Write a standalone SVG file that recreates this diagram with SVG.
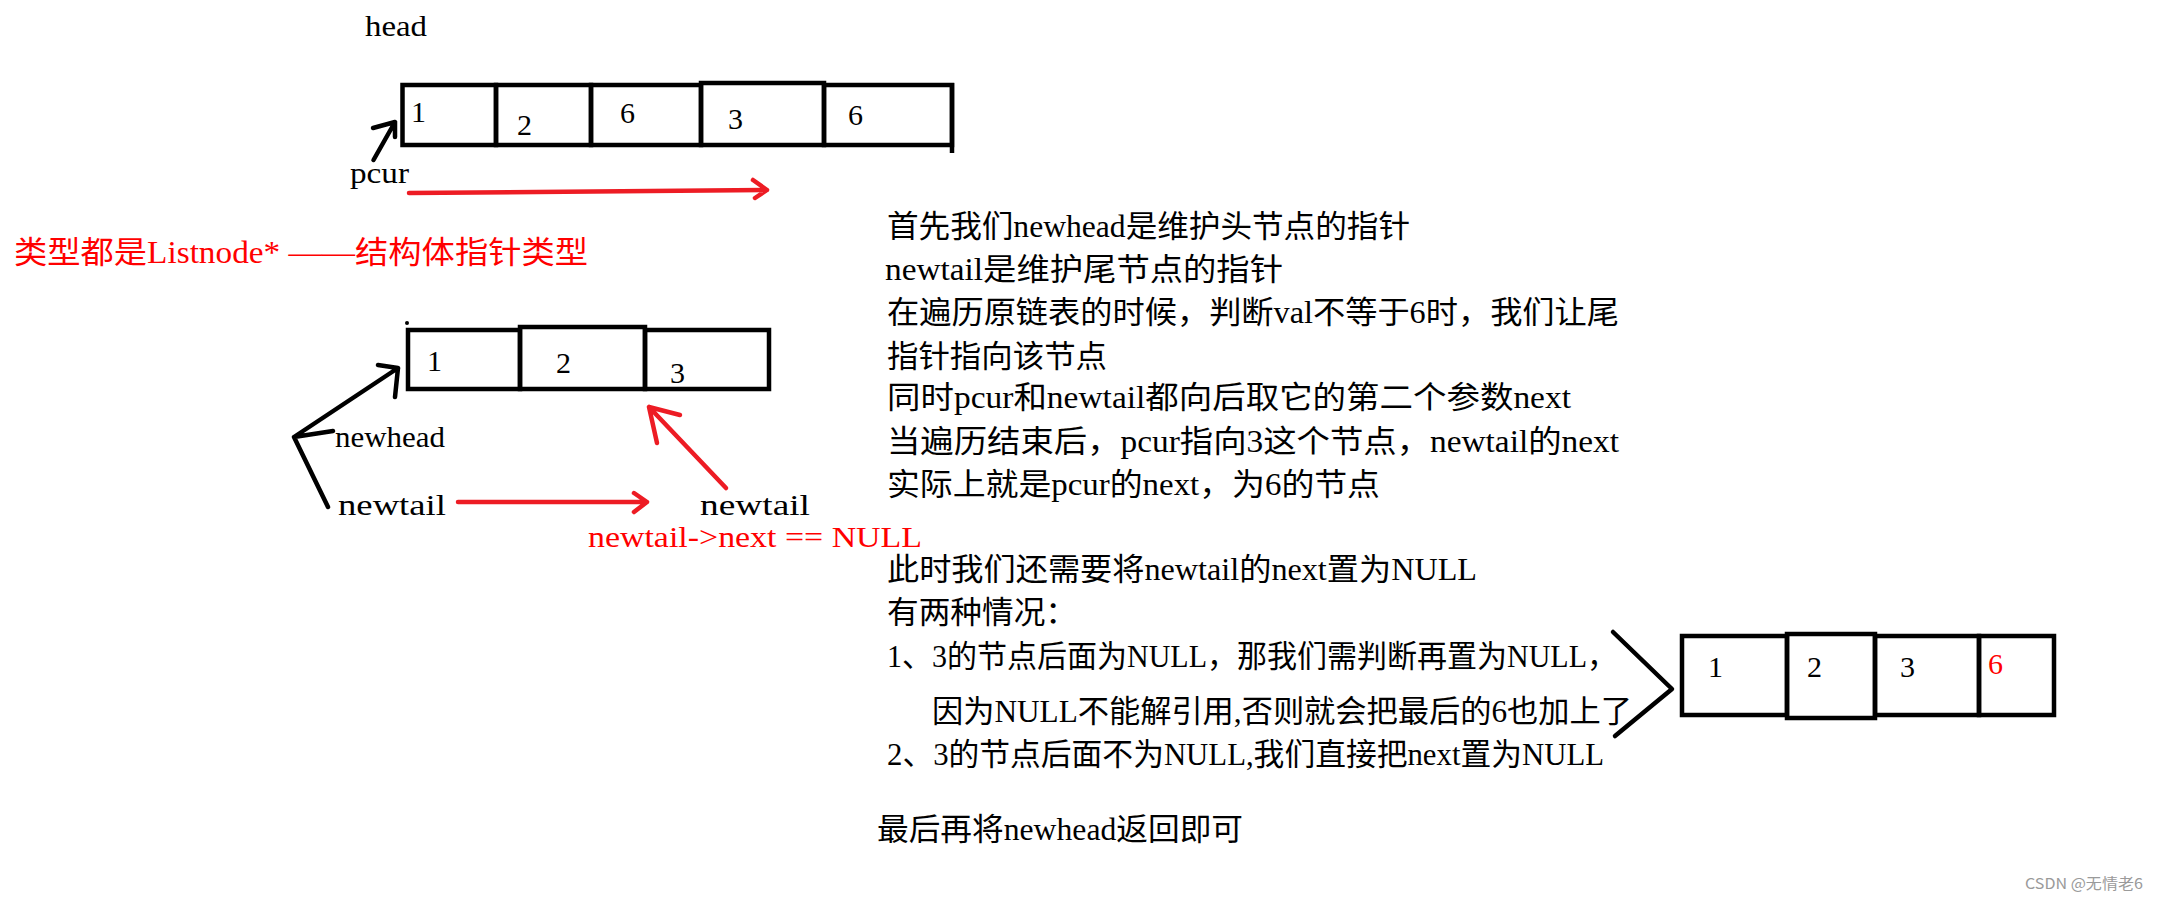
<svg xmlns="http://www.w3.org/2000/svg" width="2157" height="903" viewBox="0 0 2157 903">
<style>
.cell{fill:none;stroke:#000;stroke-width:4.5}
.lbl{font-family:"Liberation Serif","Noto Sans CJK SC",serif;font-size:30px;fill:#000}
.num{font-family:"Liberation Serif",serif;font-size:30px;fill:#000}
.para{font-family:"Liberation Serif","Noto Sans CJK SC",serif;font-size:31px;fill:#000}
.red{fill:#ff0000}
.ab{fill:none;stroke:#000;stroke-width:4.5;stroke-linecap:round;stroke-linejoin:round}
.ar{fill:none;stroke:#ed1c24;stroke-width:4.5;stroke-linecap:round;stroke-linejoin:round}
</style>
<rect width="2157" height="903" fill="#fff"/>

<g id="list1">
<rect class="cell" x="402.5" y="85" width="93.5" height="60"/>
<rect class="cell" x="496" y="85" width="95" height="60"/>
<rect class="cell" x="591" y="85" width="110" height="60"/>
<rect class="cell" x="701" y="83" width="123" height="62"/>
<rect class="cell" x="824" y="85" width="128" height="60"/>
<line class="cell" x1="952" y1="83" x2="952" y2="153"/>
<text class="num" x="411" y="122">1</text>
<text class="num" x="517" y="135">2</text>
<text class="num" x="620" y="123">6</text>
<text class="num" x="728" y="129">3</text>
<text class="num" x="848" y="125">6</text>
</g>

<g id="list2">
<circle cx="407" cy="323" r="2" fill="#000"/>
<rect class="cell" x="408" y="330" width="112" height="59"/>
<rect class="cell" x="520" y="327" width="125" height="62"/>
<rect class="cell" x="645" y="330" width="124" height="59"/>
<text class="num" x="427" y="371">1</text>
<text class="num" x="556" y="373">2</text>
<text class="num" x="670" y="383">3</text>
</g>

<g id="list3">
<rect class="cell" x="1682" y="636" width="105" height="79"/>
<rect class="cell" x="1787" y="634" width="88" height="84"/>
<rect class="cell" x="1875" y="636" width="104" height="79"/>
<rect class="cell" x="1979" y="636" width="75" height="79"/>
<text class="num" x="1708" y="677">1</text>
<text class="num" x="1807" y="677">2</text>
<text class="num" x="1900" y="677">3</text>
<text class="num red" x="1988" y="674">6</text>
</g>

<g id="labels">
<text class="lbl" x="365" y="36" textLength="62" lengthAdjust="spacingAndGlyphs">head</text>
<text class="lbl" x="350" y="183" textLength="59" lengthAdjust="spacingAndGlyphs">pcur</text>
<text class="lbl" x="335" y="447" textLength="110" lengthAdjust="spacingAndGlyphs">newhead</text>
<text class="lbl" x="338" y="515" textLength="108" lengthAdjust="spacingAndGlyphs">newtail</text>
<text class="lbl" x="700" y="515" textLength="110" lengthAdjust="spacingAndGlyphs">newtail</text>
<text class="lbl red" x="588" y="547" font-size="28" textLength="334" lengthAdjust="spacingAndGlyphs">newtail-&gt;next == NULL</text>
<text class="para red" x="14" y="263" textLength="574" lengthAdjust="spacingAndGlyphs">类型都是Listnode* ——结构体指针类型</text>
</g>

<g id="explanation">
<text class="para" x="887" y="237" textLength="523" lengthAdjust="spacingAndGlyphs">首先我们newhead是维护头节点的指针</text>
<text class="para" x="885" y="280" textLength="398" lengthAdjust="spacingAndGlyphs">newtail是维护尾节点的指针</text>
<text class="para" x="887" y="323" textLength="732" lengthAdjust="spacingAndGlyphs">在遍历原链表的时候，判断val不等于6时，我们让尾</text>
<text class="para" x="887" y="367" textLength="220" lengthAdjust="spacingAndGlyphs">指针指向该节点</text>
<text class="para" x="887" y="408" textLength="684" lengthAdjust="spacingAndGlyphs">同时pcur和newtail都向后取它的第二个参数next</text>
<text class="para" x="887" y="452" textLength="732" lengthAdjust="spacingAndGlyphs">当遍历结束后，pcur指向3这个节点，newtail的next</text>
<text class="para" x="887" y="495" textLength="493" lengthAdjust="spacingAndGlyphs">实际上就是pcur的next，为6的节点</text>
<text class="para" x="887" y="580" textLength="590" lengthAdjust="spacingAndGlyphs">此时我们还需要将newtail的next置为NULL</text>
<text class="para" x="887" y="623" textLength="190" lengthAdjust="spacingAndGlyphs">有两种情况：</text>
<text class="para" x="887" y="667" textLength="730" lengthAdjust="spacingAndGlyphs">1、3的节点后面为NULL，那我们需判断再置为NULL，</text>
<text class="para" x="932" y="722" textLength="700" lengthAdjust="spacingAndGlyphs">因为NULL不能解引用,否则就会把最后的6也加上了</text>
<text class="para" x="887" y="765" textLength="717" lengthAdjust="spacingAndGlyphs">2、3的节点后面不为NULL,我们直接把next置为NULL</text>
<text class="para" x="877" y="840" textLength="366" lengthAdjust="spacingAndGlyphs">最后再将newhead返回即可</text>
</g>

<g id="connectors">
<path class="ab" d="M373.5,160 L395,122 M373,128 L395,122 L395,137"/>
<path class="ar" d="M409,193 L767,190 M753,180 L767,190 L755,198"/>
<path class="ab" d="M328,507 L294,437 L398,368 M294,437 L333,431 M378,365 L398,368 L395,397"/>
<path class="ar" d="M458,502 L647,502 M634,493 L647,502 L634,512"/>
<path class="ar" d="M726,488 L649,407 M680,415 L649,407 L657,443"/>
<path class="ab" d="M1613,632 L1672,689 L1615,736"/>
</g>

<g id="watermark">
<text x="2025" y="889" font-family="'Noto Sans CJK SC',sans-serif" font-size="15" fill="#9a9a9a" textLength="118" lengthAdjust="spacingAndGlyphs">CSDN @无情老6</text>
</g>
</svg>
